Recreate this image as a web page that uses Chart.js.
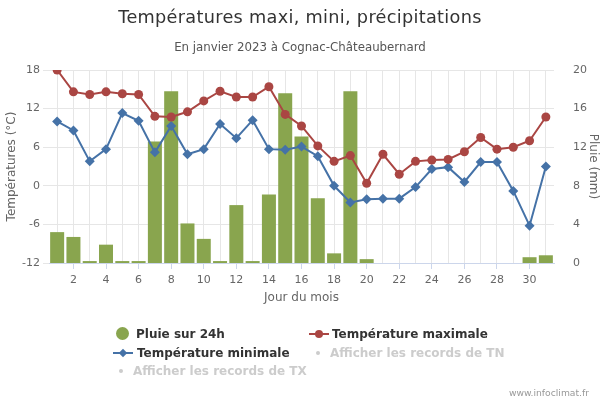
<!DOCTYPE html>
<html>
<head>
<meta charset="utf-8">
<script src="https://cdn.jsdelivr.net/npm/chart.js@4"></script>
<style>
body{margin:0;background:#fff;font-family:"DejaVu Sans",sans-serif;}
#wrap{position:relative;width:600px;height:400px;}
#c{position:absolute;left:0;top:0;}
.txt{position:absolute;white-space:nowrap;}
#titre{left:0;width:600px;top:7px;text-align:center;font-size:17.7px;color:#333;letter-spacing:0.3px;}
#soustitre{left:0;width:600px;top:40px;text-align:center;font-size:11.8px;color:#555;}
.leg{position:absolute;font-size:12px;font-weight:bold;color:#333;white-space:nowrap;}
.leg.off{color:#ccc;}
#credit{right:11px;top:387px;font-size:9.2px;color:#999;}
</style>
</head>
<body>
<div id="wrap">
<canvas id="c" width="600" height="400"></canvas>
<div id="titre" class="txt">Températures maxi, mini, précipitations</div>
<div id="soustitre" class="txt">En janvier 2023 à Cognac-Châteaubernard</div>
<div id="legende"></div>
<div id="credit" class="txt">www.infoclimat.fr</div>
</div>
<script>
// ============================
// DONNEES
// ============================

const jours = [];
for (let j = 1; j <= 31; j++) jours.push(j);

const tempMaxi = [18.0, 14.6, 14.2, 14.6, 14.3, 14.2, 10.8, 10.7, 11.5, 13.2, 14.7, 13.8, 13.8, 15.4, 11.1, 9.3,
    6.2, 3.8, 4.7, 0.4, 4.9, 1.8, 3.8, 4.0, 4.1, 5.3, 7.5, 5.7, 6.0, 7.0, 10.7];

const tempMini = [10.0, 8.6, 3.8, 5.7, 11.3, 10.1, 5.2, 9.3, 4.9, 5.7, 9.6, 7.4, 10.2, 5.7, 5.6, 6.1,
    4.6, 0.0, -2.6, -2.1, -2.0, -2.0, -0.2, 2.6, 2.9, 0.6, 3.7, 3.7, -0.8, -6.2, 3.0];

const pluie = [3.2, 2.7, 0.2, 1.9, 0.2, 0.2, 12.6, 17.8, 4.1, 2.5, 0.2, 6.0, 0.2, 7.1, 17.6, 13.1,
    6.7, 1.0, 17.8, 0.4, 0, 0, 0, 0, 0, 0, 0, 0, 0, 0.6, 0.8];

const ticksTemp = [-12, -6, 0, 6, 12, 18];
const ticksPluie = [0, 4, 8, 12, 16, 20];

const VERT = '#89a54e';
const ROUGE = '#aa4643';
const BLEU = '#4572a7';

// ============================
// LEGENDE (html)
// ============================

const legende = [
    {x: 116, y: 325, txt: 'Pluie sur 24h', type: 'rond', coul: VERT},
    {x: 309, y: 325, txt: 'Température maximale', type: 'ligne', coul: ROUGE},
    {x: 113, y: 344, txt: 'Température minimale', type: 'losange', coul: BLEU},
    {x: 313, y: 344, txt: 'Afficher les records de TN', type: 'off'},
    {x: 116, y: 362, txt: 'Afficher les records de TX', type: 'off'}
];

let html = '';
legende.forEach(l => {
    let sym = '';
    let dx = 20;
    if (l.type === 'rond') {
        sym = `<span style="position:absolute;left:0;top:2px;width:13px;height:13px;border-radius:50%;background:${l.coul}"></span>`;
    } else if (l.type === 'ligne') {
        sym = `<span style="position:absolute;left:0;top:8px;width:20px;height:2px;background:${l.coul}"></span>
               <span style="position:absolute;left:6px;top:5px;width:8px;height:8px;border-radius:50%;background:${l.coul}"></span>`;
        dx = 23;
    } else if (l.type === 'losange') {
        sym = `<span style="position:absolute;left:0;top:8px;width:20px;height:2px;background:${l.coul}"></span>
               <span style="position:absolute;left:7px;top:6px;width:6px;height:6px;transform:rotate(45deg);background:${l.coul}"></span>`;
        dx = 24;
    } else {
        sym = `<span style="position:absolute;left:3px;top:7px;width:4px;height:4px;border-radius:50%;background:#ccc"></span>`;
        dx = 17;
    }
    html += `<div class="leg ${l.type === 'off' ? 'off' : ''}" style="left:${l.x}px;top:${l.y}px;height:18px;">
        ${sym}<span style="position:absolute;left:${dx}px;top:0;line-height:18px">${l.txt}</span></div>`;
});
document.getElementById('legende').innerHTML = html;

// ============================
// GRAPHIQUE
// ============================

new Chart(document.getElementById('c'), {

type: 'bar',

data: {
    labels: jours,
    datasets: [
        {
            type: 'line',
            label: 'Température maximale',
            data: tempMaxi,
            yAxisID: 'y',
            borderColor: ROUGE,
            backgroundColor: ROUGE,
            borderWidth: 2,
            pointStyle: 'circle',
            pointRadius: 4.5,
            pointBorderWidth: 0,
            tension: 0,
            order: 1
        },
        {
            type: 'line',
            label: 'Température minimale',
            data: tempMini,
            yAxisID: 'y',
            borderColor: BLEU,
            backgroundColor: BLEU,
            borderWidth: 2,
            pointStyle: 'rectRot',
            pointRadius: 5,
            pointBorderWidth: 0,
            tension: 0,
            order: 1
        },
        {
            type: 'bar',
            label: 'Pluie sur 24h',
            data: pluie,
            yAxisID: 'y1',
            backgroundColor: VERT,
            barPercentage: 0.86,
            categoryPercentage: 1,
            order: 2
        }
    ]
},

options: {
    responsive: false,
    animation: false,
    layout: {
        padding: {top: 70, bottom: 95, left: 0, right: 0}
    },
    plugins: {
        legend: {display: false},
        tooltip: {enabled: false}
    },
    scales: {
        x: {
            grid: {
                offset: false,
                color: '#e6e6e6',
                tickLength: 6,
                tickColor: c => (c.index % 2 === 1 ? '#ccd6eb' : 'rgba(0,0,0,0)')
            },
            border: {color: '#ccd6eb'},
            ticks: {
                autoSkip: false,
                maxRotation: 0,
                padding: 5,
                color: '#666',
                font: {family: 'DejaVu Sans', size: 11},
                callback: (v, i) => (jours[i] % 2 === 0 ? String(jours[i]) : '')
            },
            title: {
                display: true,
                text: 'Jour du mois',
                color: '#666',
                font: {family: 'DejaVu Sans', size: 12},
                padding: {top: 2, bottom: 0}
            },
            afterFit: s => { s.height = 42; }
        },
        y: {
            position: 'left',
            min: -12,
            max: 18,
            afterBuildTicks: s => { s.ticks = ticksTemp.map(v => ({value: v})); },
            grid: {color: '#e6e6e6', tickLength: 6},
            border: {display: false},
            ticks: {
                padding: 3,
                color: '#666',
                font: {family: 'DejaVu Sans', size: 11}
            },
            title: {
                display: true,
                text: 'Températures (°C)',
                color: '#666',
                font: {family: 'DejaVu Sans', size: 12},
                padding: {top: 5, bottom: 0}
            },
            afterFit: s => { s.width = 49; }
        },
        y1: {
            position: 'right',
            min: 0,
            max: 20,
            afterBuildTicks: s => { s.ticks = ticksPluie.map(v => ({value: v})); },
            grid: {display: false},
            border: {display: false},
            ticks: {
                padding: 11,
                color: '#666',
                font: {family: 'DejaVu Sans', size: 11}
            },
            title: {
                display: true,
                text: 'Pluie (mm)',
                color: '#666',
                font: {family: 'DejaVu Sans', size: 12},
                padding: {top: 0, bottom: 2}
            },
            afterFit: s => { s.width = 46; }
        }
    }
}

});
</script>
</body>
</html>
